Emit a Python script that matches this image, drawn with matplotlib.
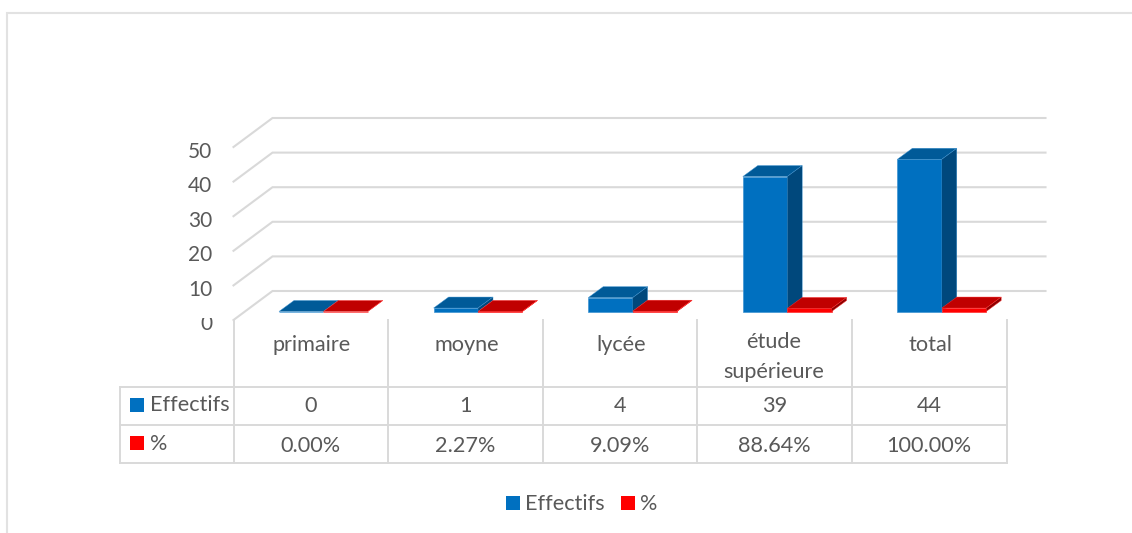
import matplotlib
matplotlib.use('Agg')
from matplotlib import pyplot as plt
from matplotlib.patches import Polygon, Rectangle
from matplotlib.transforms import Bbox

plt.rcParams['font.family'] = ['Lato', 'DejaVu Sans']

categories = ['primaire', 'moyne', 'lycée', 'étude\nsupérieure', 'total']
effectifs = [0, 1, 4, 39, 44]
pourcent = [0.0, 0.0227, 0.0909, 0.8864, 1.0]
yticks = [0, 10, 20, 30, 40, 50]
series_names = ['Effectifs', '%']

W, H = 1132, 533
GREY = '#D9D9D9'
TXT = '#595959'
BLUE = ('#0070C0', '#005A98', '#00487C', '#3F94D2')
RED = ('#FF0000', '#C00000', '#8E0000', '#FF3030')
FS = 15.6

# pixels of the front plane: x 233..1006 for 5 categories, y 311 for 0, 3.46 px per unit
X0, X1, Y0, PX_UNIT = 233.5, 1006.5, 311.5, 3.46
YMAX = 50
fig = plt.figure(figsize=(W / 100, H / 100), dpi=100)

# overlay in pixels for the frame, table and legend
px = fig.add_axes([0, 0, 1, 1])
px.set_xlim(0, W)
px.set_ylim(H, 0)
px.axis('off')

ax = fig.add_axes([X0 / W, 1 - Y0 / H, (X1 - X0) / W, YMAX * PX_UNIT / H])
ax.set_xlim(0, len(categories))
ax.set_ylim(0, YMAX)
ax.axis('off')
ax.patch.set_alpha(0)

unit_x = (X1 - X0) / len(categories)
# depth of the box and of the bars, in data units
wall_dx, wall_dy = 39 / unit_x, 29 / PX_UNIT
wall_y0 = -8.5 / PX_UNIT
bar_dx, bar_dy = 15 / unit_x, 11 / PX_UNIT
bar_w = 44.4 / unit_x
bar_start = 45.5 / unit_x

# back gridlines and the slanted part on the left wall
for v in yticks:
    y = wall_y0 + v
    ax.plot([0, wall_dx, len(categories) + wall_dx], [y, y + wall_dy, y + wall_dy],
            color=GREY, lw=1.5, clip_on=False, solid_joinstyle='miter', zorder=1)
    lab = ax.text(-21 / unit_x, y - 4.5 / PX_UNIT, str(v), ha='right', va='center',
                  fontsize=15, color=TXT, clip_on=False)
    # the 0 label is cut off by the table in the original
    if v == 0:
        lab.set_clip_on(True)
        lab.set_clip_box(Bbox([[150, H - 345], [232, H - 318]]))


def draw_bar(x, h, cols, z):
    ax.bar(x, h, width=bar_w, bottom=0, align='edge', color=cols[0], edgecolor=cols[3],
           lw=0.5, clip_on=False, zorder=z)
    ax.add_patch(Polygon([(x, h), (x + bar_dx, h + bar_dy), (x + bar_w + bar_dx, h + bar_dy), (x + bar_w, h)],
                         closed=True, fc=cols[1], ec=cols[3], lw=0.3, clip_on=False, zorder=z))
    ax.add_patch(Polygon([(x + bar_w, 0), (x + bar_w + bar_dx, bar_dy), (x + bar_w + bar_dx, h + bar_dy), (x + bar_w, h)],
                         closed=True, fc=cols[2], ec=cols[3], lw=0.3, clip_on=False, zorder=z))


for i, (e, p) in enumerate(zip(effectifs, pourcent)):
    draw_bar(i + bar_start, e, BLUE, 3)
    draw_bar(i + bar_start + bar_w, p, RED, 4)

# frame of the chart
px.plot([7, 7, W], [H, 13, 13], color='#E2E2E2', lw=1.5, solid_joinstyle='miter')

# data table
col_x = [X0 + unit_x * i for i in range(len(categories) + 1)]
row_y = [386.5, 424.5, 462.5]
for x in col_x:
    px.plot([x, x], [320, row_y[-1]], color=GREY, lw=1.4)
px.plot([120, 120], [row_y[0], row_y[-1]], color=GREY, lw=1.4)
for y in row_y:
    px.plot([119.5, X1 + 0.5], [y, y], color=GREY, lw=1.4)

for i, name in enumerate(categories):
    cx = (col_x[i] + col_x[i + 1]) / 2
    if '\n' in name:
        for j, part in enumerate(name.split('\n')):
            px.text(cx - 1, 342.5 + j * 30, part, ha='center', va='center', fontsize=FS, color=TXT)
    else:
        px.text(cx + 1, 345, name, ha='center', va='center', fontsize=FS, color=TXT)
    px.text(cx, 406, str(effectifs[i]), ha='center', va='center', fontsize=FS, color=TXT)
    px.text(cx, 445.5, f'{pourcent[i]:.2%}', ha='center', va='center', fontsize=FS, color=TXT)

for y, name, col in zip((397.5, 436), series_names, (BLUE[0], RED[0])):
    px.add_patch(Rectangle((130, y), 14, 14, fc=col, ec='none'))
    px.text(150, y + 7.5, name, ha='left', va='center', fontsize=FS, color=TXT)

# legend under the table
for x, name, col in zip((506, 621), series_names, (BLUE[0], RED[0])):
    px.add_patch(Rectangle((x, 496), 14, 14, fc=col, ec='none'))
    px.text(x + 19, 504.5, name, ha='left', va='center', fontsize=FS, color=TXT)

fig.savefig('out.png', dpi=100, facecolor='white')
